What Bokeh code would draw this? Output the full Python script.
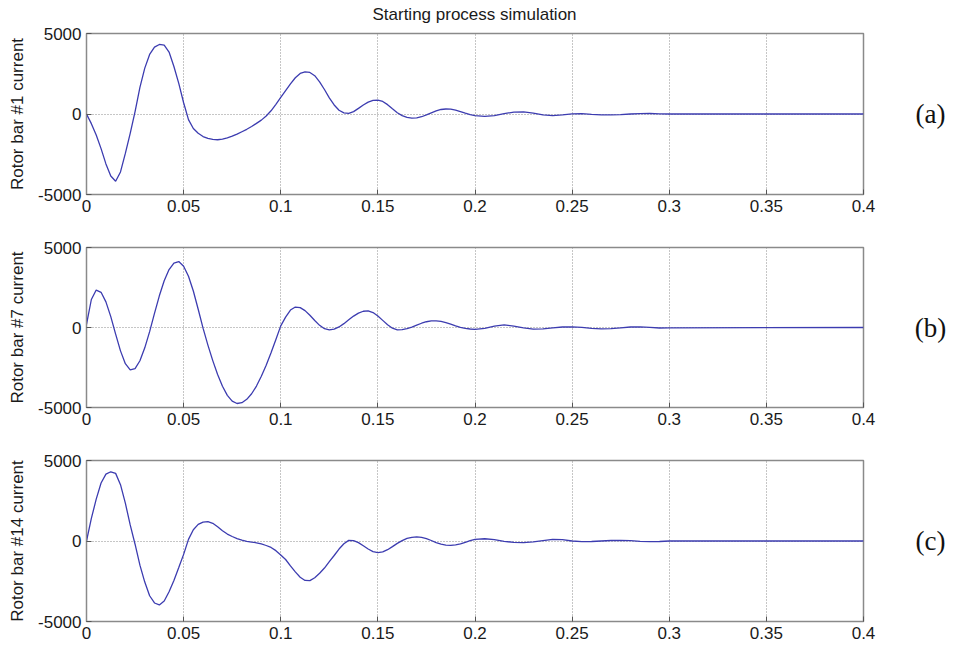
from bokeh.plotting import figure
from bokeh.layouts import column, row
from bokeh.models import FixedTicker, Range1d
from bokeh.core.properties import value
from bokeh.embed import file_html
from bokeh.resources import INLINE

# time samples (s)
t = [0, 0.0025, 0.005, 0.0075, 0.01, 0.0125, 0.015, 0.0175, 0.02, 0.0225,
     0.025, 0.0275, 0.03, 0.0325, 0.035, 0.0375, 0.04, 0.0425, 0.045, 0.0475,
     0.05, 0.0525, 0.055, 0.0575, 0.06, 0.0625, 0.065, 0.0675, 0.07, 0.0725,
     0.075, 0.0775, 0.08, 0.0825, 0.085, 0.0875, 0.09, 0.0925, 0.095, 0.0975,
     0.1, 0.1025, 0.105, 0.1075, 0.11, 0.1125, 0.115, 0.1175, 0.12, 0.1225,
     0.125, 0.1275, 0.13, 0.1325, 0.135, 0.1375, 0.14, 0.1425, 0.145, 0.1475,
     0.15, 0.1525, 0.155, 0.1575, 0.16, 0.1625, 0.165, 0.1675, 0.17, 0.1725,
     0.175, 0.1775, 0.18, 0.1825, 0.185, 0.1875, 0.19, 0.1925, 0.195, 0.1975,
     0.2, 0.205, 0.21, 0.215, 0.22, 0.225, 0.23, 0.235, 0.24, 0.245,
     0.25, 0.255, 0.26, 0.265, 0.27, 0.275, 0.28, 0.285, 0.29, 0.295,
     0.3, 0.4]

bar1 = [0, -600, -1300, -2150, -3100, -3850, -4180, -3600, -2450, -1200,
        150, 1650, 2850, 3700, 4150, 4320, 4280, 3850, 2950, 1900,
        700, -350, -900, -1200, -1400, -1520, -1580, -1600, -1560, -1480,
        -1380, -1250, -1100, -950, -780, -580, -380, -120, 200, 600,
        1030, 1450, 1870, 2250, 2520, 2620, 2580, 2380, 2000, 1520,
        1000, 560, 230, 70, 40, 150, 350, 560, 740, 850,
        865, 780, 580, 320, 80, -100, -210, -250, -240, -170,
        -60, 70, 190, 280, 310, 300, 240, 150, 50, -40,
        -100, -150, -100, 20, 120, 130, 50, -60, -100, -60,
        10, 20, -20, -50, -60, -40, 0, 20, 30, 10,
        0, 0]

bar7 = [200, 1750, 2340, 2200, 1600, 680, -410, -1460, -2260, -2650,
        -2570, -2080, -1270, -260, 885, 1980, 2920, 3620, 4030, 4120,
        3830, 3200, 2280, 1140, -40, -1100, -2070, -2940, -3670, -4240,
        -4600, -4750, -4700, -4490, -4140, -3660, -3050, -2360, -1580, -750,
        100, 650, 1090, 1280, 1240, 1055, 765, 440, 135, -75,
        -150, -100, 36, 241, 479, 712, 900, 1015, 1040, 932,
        719, 445, 171, -42, -145, -136, -74, 26, 147, 266,
        360, 416, 415, 377, 304, 209, 107, 13, -59, -95,
        -120, -60, 90, 170, 90, -20, -100, -80, -20, 30,
        40, 10, -50, -80, -70, -20, 30, 40, 10, -30,
        -20, 0]

bar14 = [0, 1400, 2600, 3600, 4150, 4300, 4200, 3500, 2350, 1000,
         -200, -1500, -2550, -3400, -3850, -3970, -3730, -3150, -2450, -1650,
         -830, 100, 700, 1030, 1170, 1200, 1100, 880, 640, 430,
         280, 150, 50, -20, -70, -110, -180, -280, -400, -600,
         -870, -1150, -1550, -1920, -2250, -2450, -2460, -2280, -2000, -1680,
         -1280, -900, -500, -170, 40, 20, -100, -300, -500, -660,
         -720, -680, -540, -350, -150, 20, 160, 230, 250, 220,
         150, 30, -100, -190, -250, -270, -240, -180, -80, 20,
         100, 140, 80, -20, -90, -100, -60, 20, 100, 80,
         0, -40, -30, 0, 30, 40, 20, -20, -40, -30,
         0, 0]

x_ticks = [0, 0.05, 0.1, 0.15, 0.2, 0.25, 0.3, 0.35, 0.4]
x_tick_labels = ["0", "0.05", "0.1", "0.15", "0.2", "0.25", "0.3", "0.35", "0.4"]
y_ticks = [-5000, 0, 5000]
y_tick_labels = ["-5000", "0", "5000"]

panels = [
    ("Rotor bar #1 current", bar1, "(a)"),
    ("Rotor bar #7 current", bar7, "(b)"),
    ("Rotor bar #14 current", bar14, "(c)"),
]
title_text = "Starting process simulation"

SANS = "Liberation Sans"
SERIF = "Liberation Serif"
BOX = "#8a8a8a"

# title strip
tfig = figure(width=955, height=23, x_range=Range1d(0, 955), y_range=Range1d(0, 23),
              output_backend="svg", toolbar_location=None,
              x_axis_location=None, y_axis_location=None,
              min_border=0)
tfig.outline_line_color = None
tfig.xgrid.visible = False
tfig.ygrid.visible = False
tfig.text(x=[474], y=[9], text=[title_text], text_font=value(SANS),
          text_font_size="17px", text_align="center", text_baseline="middle",
          text_color="#1a1a1a")

# (top border, frame height, bottom border)
geo = [(10, 161, 26), (27, 160, 26), (27, 161, 26)]

rows = [tfig]
for i, ((ylab, ys, tag), (top, fh, bot)) in enumerate(zip(panels, geo)):
    p = figure(frame_width=777, frame_height=fh,
               x_range=Range1d(0, 0.4), y_range=Range1d(-5000, 5000),
               output_backend="svg", toolbar_location=None,
               min_border_left=86, min_border_right=20,
               min_border_top=top, min_border_bottom=bot)
    p.line(t, ys, line_color="#3c3cb0", line_width=1.3)

    p.xaxis.ticker = FixedTicker(ticks=x_ticks)
    p.xaxis.major_label_overrides = {k: v for k, v in zip(x_ticks, x_tick_labels)}
    p.yaxis.ticker = FixedTicker(ticks=y_ticks)
    p.yaxis.major_label_overrides = {k: v for k, v in zip(y_ticks, y_tick_labels)}
    for ax in (p.xaxis[0], p.yaxis[0]):
        ax.major_tick_in = 5
        ax.major_tick_out = 0
        ax.minor_tick_line_color = None
        ax.axis_line_color = BOX
        ax.major_tick_line_color = "#555555"
        ax.major_label_text_font = SANS
        ax.major_label_text_font_size = "17px"
        ax.major_label_text_color = "#1a1a1a"
        ax.major_label_standoff = 5
    p.yaxis.axis_label = ylab
    p.yaxis.axis_label_text_font = SANS
    p.yaxis.axis_label_text_font_size = "17px"
    p.yaxis.axis_label_text_font_style = "normal"
    p.yaxis.axis_label_text_color = "#1a1a1a"
    p.yaxis.axis_label_standoff = 8

    p.outline_line_color = BOX
    p.outline_line_width = 1.5
    p.xgrid.ticker = FixedTicker(ticks=x_ticks)
    p.xgrid.grid_line_color = "#8c8c8c"
    p.xgrid.grid_line_dash = "1 2"
    p.ygrid.ticker = FixedTicker(ticks=[0])
    p.ygrid.grid_line_color = "#8c8c8c"
    p.ygrid.grid_line_dash = "1 2"

    # side figure carrying the panel tag
    q = figure(frame_width=72, frame_height=fh,
               x_range=Range1d(0, 72), y_range=Range1d(-5000, 5000),
               output_backend="svg", toolbar_location=None,
               x_axis_location=None, y_axis_location=None,
               min_border_left=0, min_border_right=0,
               min_border_top=top, min_border_bottom=bot)
    q.outline_line_color = None
    q.xgrid.visible = False
    q.ygrid.visible = False
    q.text(x=[47], y=[0], text=[tag], text_font=value(SERIF),
           text_font_size="27px", text_align="center",
           text_baseline="middle", text_color="#111111")
    rows.append(row(p, q, spacing=0))

layout = column(*rows, spacing=0)
html = file_html(layout, INLINE, "Starting process simulation")
open("out.html", "w").write(html)
